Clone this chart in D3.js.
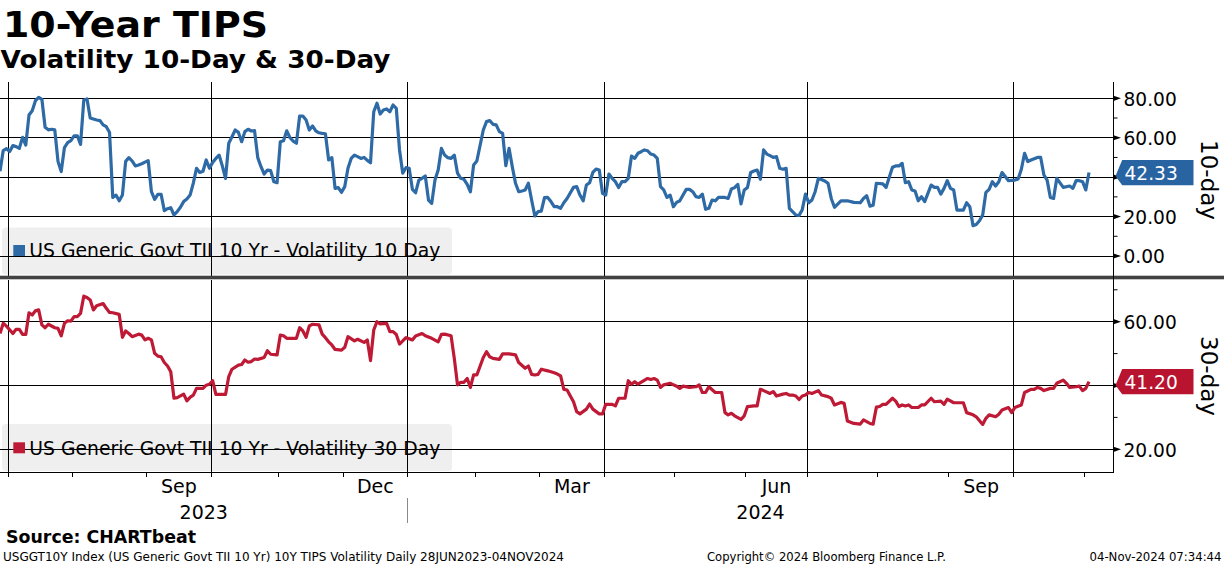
<!DOCTYPE html>
<html><head><meta charset="utf-8">
<script src="https://cdn.jsdelivr.net/npm/d3@7"></script>
<style>html,body{margin:0;padding:0;background:#fff}svg{display:block}</style>
</head><body>
<svg id="chart" width="1224" height="566"></svg>
<script>
// ---------- texts ----------
const titleText = "10-Year TIPS";
const subtitleText = "Volatility 10-Day & 30-Day";
const legendTop = "US Generic Govt TII 10 Yr - Volatility 10 Day";
const legendBottom = "US Generic Govt TII 10 Yr - Volatility 30 Day";
const axisTitleTop = "10-day";
const axisTitleBottom = "30-day";
const sourceText = "Source: CHARTbeat";
const footerLeft = "USGGT10Y Index (US Generic Govt TII 10 Yr) 10Y TIPS Volatility  Daily 28JUN2023-04NOV2024";
const footerMid = "Copyright\u00A9 2024 Bloomberg Finance L.P.";
const footerRight = "04-Nov-2024 07:34:44";

// ---------- trading calendar (x categories) ----------
const firstDay = "2023-06-28";
const calendarEnd = "2024-11-29";
const holidays = ["2023-07-04","2023-09-04","2023-10-09","2023-11-10","2023-11-23","2023-12-25",
  "2024-01-01","2024-01-15","2024-02-19","2024-03-29","2024-05-27","2024-06-19","2024-07-04",
  "2024-09-02","2024-10-14","2024-11-11","2024-11-28"];
const monthNames = ["Jan","Feb","Mar","Apr","May","Jun","Jul","Aug","Sep","Oct","Nov","Dec"];
const labelledMonths = [2,5,8,11];   // Mar, Jun, Sep, Dec
const gridMonths = [0,3,6,9];        // quarter starts

// ---------- series: [trading session since 28JUN2023, value] ----------
const tenDay = [
[0,43],[1,53.5],[2,54.5],[3,53],[4,56],[5,55.5],[6,54.6],[7,60.2],[8,56.3],[9,71.5],
[10,73.7],[11,78.8],[12,80.5],[13,79.5],[14,65.3],[15,64],[16,64.3],[17,64],[18,48],[19,42.8],
[20,55],[21,57.5],[22,58.5],[23,60.9],[24,61],[25,56.6],[26,79],[27,79.7],[28,70],[29,69.5],
[30,69],[31,68.7],[32,66.5],[33,65.6],[34,62.6],[35,29.7],[36,30.9],[37,28],[38,31],[39,48],
[40,49.9],[41,48.2],[42,45.7],[43,46.2],[44,46.8],[45,47.6],[46,48.4],[47,32.6],[48,28.7],[49,31.3],
[50,31.3],[51,23],[52,24],[53,24.5],[54,20.8],[55,22.5],[56,24.7],[57,27.6],[58,28.9],[59,30.9],
[60,37],[61,44.5],[62,42.4],[63,43],[64,48.7],[65,44.5],[66,47.5],[67,49.5],[68,51.2],[69,45.7],
[70,39.4],[71,57.2],[72,60.5],[73,63.9],[74,62.7],[75,58],[76,63.1],[77,64.3],[78,63.4],[79,63.6],
[80,49.9],[81,45.3],[82,41.6],[83,43.6],[84,43.3],[85,37.7],[86,37.2],[87,58],[88,58.5],[89,63.5],
[90,60],[91,58.3],[92,57.2],[93,71],[94,71],[95,69],[96,63.9],[97,66],[98,63.5],[99,62.5],
[100,62.2],[101,62],[102,48.7],[103,49.9],[104,34.3],[105,34.7],[106,32.3],[107,35.2],[108,44.5],[109,49.5],
[110,51.2],[111,50.4],[112,49.5],[113,50],[114,48.5],[115,47.3],[116,73.2],[117,77.5],[118,72],[119,74.1],
[120,74.6],[121,73.2],[122,76.6],[123,74.9],[124,53.8],[125,42],[126,44.8],[127,44.5],[128,33.8],[129,32.1],
[130,38.5],[131,39.4],[132,40.6],[133,28.4],[134,26.7],[135,38.5],[136,43.6],[137,54.6],[138,51.2],[139,49.9],
[140,49.5],[141,51.2],[142,42],[143,39.4],[144,38.9],[145,36.3],[146,32.6],[147,46.2],[148,48.2],[150,63.9],
[151,68.2],[152,68.7],[153,66.8],[154,66.5],[155,63.1],[156,62.2],[157,45.8],[158,54.6],[159,45.3],[160,36.9],
[161,32.6],[162,33],[163,33.5],[164,36.9],[165,28.4],[166,20.3],[167,22.5],[168,22.8],[169,29.6],[170,29.7],
[171,27.6],[172,25],[173,25],[174,24.2],[175,27],[176,29.2],[178,34.8],[179,35.2],[180,30.9],[181,28],
[182,36],[183,37.2],[184,42.4],[185,44.1],[186,43.6],[187,31.8],[188,30.9],[189,41.6],[190,39.4],[191,37.7],
[192,34.7],[193,37.7],[194,37.7],[195,39.4],[196,50.7],[197,49.5],[198,52.1],[199,52.9],[200,53.8],[201,53.4],
[202,51.7],[203,51.2],[204,49.5],[205,35.2],[206,33.5],[207,29.7],[208,30.9],[209,25],[210,27.2],[211,28],
[212,30.9],[213,33.8],[214,33.8],[215,32.6],[216,30.1],[217,29.7],[218,31.4],[219,23.7],[220,24.2],[221,28.4],
[222,28],[223,29.7],[225,29.7],[226,29.2],[227,34],[228,34.7],[229,36.3],[230,26.4],[231,33.5],[232,34.8],
[233,42.4],[234,43.1],[235,43.6],[236,38.9],[237,53.8],[238,51.7],[239,50.9],[240,50],[241,50.4],[242,44.5],
[243,44],[244,44.5],[245,24.2],[246,22.5],[247,20.8],[248,20.6],[249,23.5],[250,31.4],[251,27],[252,28.4],
[253,32.6],[254,39.4],[256,38],[257,36.9],[258,29.2],[259,24.7],[261,28],[263,28],[265,27.2],[267,27],
[268,29.2],[269,30.6],[270,25.3],[271,25.8],[272,36.9],[274,36.6],[275,34.8],[277,45],[278,45.7],[279,45.7],
[280,47],[281,37.2],[282,37.7],[283,33.5],[284,33],[285,28],[286,30.1],[287,27.6],[288,31.8],[289,36],
[290,34.8],[291,34.8],[292,31.4],[293,34.3],[294,38.2],[295,34.3],[296,33.5],[297,23.3],[299,23.3],[300,27],
[301,25],[302,15.4],[303,16],[304,17.9],[305,20.8],[306,32.3],[307,33.8],[308,37.7],[309,35.5],[310,37.7],
[311,42.3],[312,40.3],[313,38.2],[315,38.5],[316,39.1],[317,44],[318,52.1],[319,47.9],[320,48.7],[322,50],
[323,50],[324,41.1],[325,38.5],[326,29.7],[327,29.2],[328,39.4],[330,34.8],[332,35.5],[333,34.3],[334,38.2],
[335,38.2],[336,37.7],[337,33.5],[338,42.33]
];
const thirtyDay = [
[0,56.3],[1,59.5],[2,58.6],[4,56.3],[5,57.6],[6,57.6],[7,56],[8,56],[9,62.8],[10,62.1],
[11,63.4],[12,63.7],[13,59],[14,58.1],[15,59.2],[17,58.1],[18,57.9],[19,55.6],[20,59.5],[21,60.3],
[22,60.2],[23,61.6],[24,61.6],[25,62.6],[26,68],[27,67.6],[28,66.8],[29,63.7],[30,65],[32,65.7],
[33,64.2],[34,62.9],[35,62.8],[37,62.3],[38,55.1],[39,57.1],[40,56.3],[41,55.3],[43,56.1],[44,55.8],
[45,54.3],[46,54.8],[47,54.3],[48,50.1],[49,49.2],[50,49],[51,47.2],[52,46.1],[53,44.3],[54,36],
[55,36.2],[57,37.3],[58,35.2],[59,36.3],[60,37],[61,39.1],[63,39.1],[64,40.1],[65,40.4],[66,41.5],
[67,37.2],[68,37.2],[70,37.2],[71,42.8],[72,45.1],[74,46.4],[75,46.6],[76,48],[77,47.3],[78,47.5],
[79,48.3],[80,48.2],[82,48.8],[83,50.9],[84,49.8],[86,49.6],[87,55.8],[88,55.6],[89,54.8],[92,54.8],
[93,58.1],[94,57.1],[95,55.1],[96,58.7],[97,59.2],[99,59],[100,56.1],[101,55],[102,53.7],[103,52.7],
[104,51.3],[106,51.1],[107,52],[108,55.3],[110,54],[111,54.5],[113,53.5],[114,54.3],[115,47.8],[116,57.4],
[117,60],[118,59.3],[120,59.5],[121,56.9],[122,56.9],[123,56],[124,53],[125,54],[126,55],[128,54.3],
[129,55.5],[131,56.3],[132,55.6],[134,54.8],[136,53.7],[137,56],[138,56.1],[140,55.6],[141,48.5],[142,40.2],
[143,41],[144,41],[145,42.2],[146,39.4],[147,43.3],[148,43.3],[150,48.8],[151,50.6],[152,49],[153,48.5],
[155,48.2],[156,49.9],[158,49.9],[160,49.6],[161,47.2],[163,45.4],[164,46.1],[165,43.5],[166,43.3],[167,43.5],
[168,45.1],[170,44.6],[172,44],[173,43.6],[174,43],[175,38.8],[176,38.6],[178,34.9],[179,31.8],[180,31.1],
[182,32.6],[183,34.2],[184,32.6],[186,31.1],[187,31.1],[188,34.1],[190,34.1],[191,33.6],[192,36],[194,36],
[195,41.5],[196,40.4],[197,41.2],[198,40.4],[201,42.2],[202,41.9],[203,42.2],[204,41.7],[205,39.4],[206,40.2],
[208,40.7],[209,40.2],[210,39.8],[211,39.1],[212,39.8],[214,39.4],[216,39.6],[217,40.2],[218,37.8],[219,37.8],
[220,39.6],[222,37.8],[224,37.8],[225,31.5],[226,30.8],[227,31.3],[228,30.5],[230,29.4],[231,30.5],[232,33.4],
[234,33.6],[235,33.6],[236,38.8],[237,38.4],[239,37.5],[240,38.1],[241,36.7],[243,37.3],[244,37.5],[245,37],
[246,37],[247,36.7],[248,35.6],[249,36.7],[250,37],[251,37.8],[252,37.5],[254,38.4],[255,37],[257,36.5],
[258,36],[259,33.9],[261,34.7],[262,34.4],[263,28.9],[265,28.1],[267,27.9],[268,29.2],[270,28.1],[271,27.9],
[272,33.2],[273,33.4],[274,34.1],[275,34.1],[277,36],[278,35.1],[279,33.4],[280,33.9],[281,33.6],[282,33.9],
[283,33.1],[285,33.1],[286,33.9],[287,33.9],[289,36],[290,34.9],[292,35.1],[293,34.1],[294,35.7],[296,34.6],
[297,34.6],[299,34.6],[300,31.5],[302,30.8],[303,30.2],[305,27.8],[306,29.7],[307,30.8],[309,30.2],[310,31],
[311,32.3],[313,33.1],[314,31.5],[315,33.1],[317,33.9],[318,37.8],[320,38.8],[321,38.8],[322,39.4],[323,39.1],
[324,38.4],[326,39.1],[327,39.1],[328,40.7],[330,41.7],[331,40.7],[332,39.4],[334,39.6],[335,39.8],[336,38.4],
[337,39.1],[338,41.2]
];
const tenDayLast = 42.33;
const thirtyDayLast = 41.20;

// ---------- axis ticks ----------
const topTicks = [0,20,40,60,80];
const topMinor = [10,30,50,70];
const bottomTicks = [20,40,60];
const bottomMinor = [30,50,70];

// ---------- styles ----------
const BLUE = "#2e6aa5", BLUE_BADGE = "#2964a2";
const RED = "#be1a35", RED_BADGE = "#b8142f";
const FONT = "'DejaVu Sans', Verdana, sans-serif";

// ---------- layout ----------
const plotLeft = 0, plotRight = 1113.5;
const topPanel = {top: 81.5, bottom: 275.5};
const botPanel = {top: 279.5, bottom: 472.5};

// ---------- build trading calendar ----------
const sessions = [];
{
  const hol = new Set(holidays);
  const d = new Date(firstDay + "T00:00:00Z");
  const end = new Date(calendarEnd + "T00:00:00Z");
  while (d <= end) {
    const wd = d.getUTCDay();
    const iso = d.toISOString().slice(0,10);
    if (wd !== 0 && wd !== 6 && !hol.has(iso)) sessions.push(new Date(d));
    d.setUTCDate(d.getUTCDate() + 1);
  }
}
const x = d3.scaleLinear().domain([0, 345.6]).range([plotLeft, plotRight]);
const yTop = d3.scaleLinear().domain([0, 80]).range([256, 98.3]);
const yBot = d3.scaleLinear().domain([20, 60]).range([449.3, 321.7]);

// month boundaries in session units
const boundaries = [];
for (let i = 1; i < sessions.length; i++) {
  if (sessions[i].getUTCMonth() !== sessions[i-1].getUTCMonth()) {
    boundaries.push({pos: i - 0.5, month: sessions[i].getUTCMonth(), year: sessions[i].getUTCFullYear()});
  }
}
const visibleBounds = boundaries.filter(b => x(b.pos) <= plotRight);

const svg = d3.select("#chart");

// ---------- titles ----------
svg.append("text").attr("x", 3).attr("y", 36.7)
  .attr("font-family", FONT).attr("font-weight", "bold").attr("font-size", 35)
  .attr("textLength", 265).attr("lengthAdjust", "spacingAndGlyphs").text(titleText);
svg.append("text").attr("x", 0.5).attr("y", 68.3)
  .attr("font-family", FONT).attr("font-weight", "bold").attr("font-size", 25)
  .attr("textLength", 390).attr("lengthAdjust", "spacingAndGlyphs").text(subtitleText);

// ---------- legend boxes (behind grid) ----------
function legendBox(y0) {
  svg.append("rect").attr("x", 2).attr("y", y0).attr("width", 450).attr("height", 47)
    .attr("rx", 4).attr("fill", "#efefef");
}
legendBox(227.5);
legendBox(424);

// ---------- grid ----------
const grid = svg.append("g").attr("stroke", "#000").attr("stroke-width", 1).attr("shape-rendering", "crispEdges");
topTicks.forEach(v => grid.append("line").attr("x1", plotLeft).attr("x2", plotRight).attr("y1", yTop(v)).attr("y2", yTop(v)));
bottomTicks.forEach(v => grid.append("line").attr("x1", plotLeft).attr("x2", plotRight).attr("y1", yBot(v)).attr("y2", yBot(v)));
visibleBounds.filter(b => gridMonths.includes(b.month)).forEach(b => {
  grid.append("line").attr("x1", x(b.pos)).attr("x2", x(b.pos)).attr("y1", topPanel.top).attr("y2", topPanel.bottom);
  grid.append("line").attr("x1", x(b.pos)).attr("x2", x(b.pos)).attr("y1", botPanel.top).attr("y2", botPanel.bottom);
});

// ---------- clip paths ----------
const defs = svg.append("defs");
defs.append("clipPath").attr("id", "clipTop").append("rect")
  .attr("x", plotLeft).attr("y", topPanel.top).attr("width", plotRight - plotLeft).attr("height", topPanel.bottom - topPanel.top);
defs.append("clipPath").attr("id", "clipBot").append("rect")
  .attr("x", plotLeft).attr("y", botPanel.top).attr("width", plotRight - plotLeft).attr("height", botPanel.bottom - botPanel.top);

// ---------- lines ----------
const lineTop = d3.line().x(d => x(d[0])).y(d => yTop(d[1]));
const lineBot = d3.line().x(d => x(d[0])).y(d => yBot(d[1]));
svg.append("path").datum(tenDay).attr("clip-path", "url(#clipTop)")
  .attr("d", lineTop).attr("fill", "none").attr("stroke", BLUE).attr("stroke-width", 3.2)
  .attr("stroke-linejoin", "round");
svg.append("path").datum(thirtyDay).attr("clip-path", "url(#clipBot)")
  .attr("d", lineBot).attr("fill", "none").attr("stroke", RED).attr("stroke-width", 3.2)
  .attr("stroke-linejoin", "round");

// ---------- legend content ----------
svg.append("rect").attr("x", 13.3).attr("y", 245).attr("width", 11.7).attr("height", 11).attr("fill", BLUE);
svg.append("text").attr("x", 29.3).attr("y", 257.3).attr("font-family", FONT).attr("font-size", 18.7)
  .attr("textLength", 411).attr("lengthAdjust", "spacingAndGlyphs").text(legendTop);
svg.append("rect").attr("x", 13.3).attr("y", 442.3).attr("width", 11.7).attr("height", 11).attr("fill", RED);
svg.append("text").attr("x", 29.3).attr("y", 455.3).attr("font-family", FONT).attr("font-size", 18.7)
  .attr("textLength", 411).attr("lengthAdjust", "spacingAndGlyphs").text(legendBottom);

// ---------- separator between panels ----------
svg.append("rect").attr("x", 0).attr("y", 275.7).attr("width", 1224).attr("height", 3.6).attr("fill", "#424242");

// ---------- right axis ----------
const ax = svg.append("g");
ax.append("line").attr("x1", plotRight).attr("x2", plotRight).attr("y1", topPanel.top).attr("y2", botPanel.bottom)
  .attr("stroke", "#000").attr("stroke-width", 1).attr("shape-rendering", "crispEdges");
// a tick label is hidden where the last-value badge sits
function majorTicks(ticks, scale, badgeValue) {
  ticks.forEach(v => {
    const yy = scale(v);
    ax.append("path").attr("d", `M${plotRight},${yy - 2.6}L${plotRight + 7.5},${yy}L${plotRight},${yy + 2.6}Z`).attr("fill", "#000");
    if (Math.abs(yy - scale(badgeValue)) > 22) {
      ax.append("text").attr("x", plotRight + 10).attr("y", yy + 7.2)
        .attr("font-family", FONT).attr("font-size", 18.6).attr("fill", "#000").text(d3.format(".2f")(v));
    }
  });
}
function minorTicks(ticks, scale) {
  ticks.forEach(v => {
    const yy = scale(v);
    ax.append("line").attr("x1", plotRight).attr("x2", plotRight + 4).attr("y1", yy).attr("y2", yy)
      .attr("stroke", "#000").attr("stroke-width", 1);
  });
}
majorTicks(topTicks, yTop, tenDayLast);
minorTicks(topMinor, yTop);
majorTicks(bottomTicks, yBot, thirtyDayLast);
minorTicks(bottomMinor.filter(v => yBot(v) > botPanel.top), yBot);

// axis titles
svg.append("text").attr("transform", `translate(1200.5,180) rotate(90)`).attr("text-anchor", "middle")
  .attr("font-family", FONT).attr("font-size", 23).text(axisTitleTop);
svg.append("text").attr("transform", `translate(1200.5,376) rotate(90)`).attr("text-anchor", "middle")
  .attr("font-family", FONT).attr("font-size", 23).text(axisTitleBottom);

// last value badges
function badge(yy, color, value) {
  const h = 12.6;
  svg.append("path")
    .attr("d", `M${plotRight + 2},${yy + 3.5}L${plotRight + 8.7},${yy - h}L${plotRight + 80},${yy - h}L${plotRight + 80},${yy + h}L${plotRight + 8.7},${yy + h}Z`)
    .attr("fill", color);
  svg.append("text").attr("x", plotRight + 11).attr("y", yy + 7)
    .attr("font-family", FONT).attr("font-size", 18.6).attr("fill", "#fff").text(d3.format(".2f")(value));
}
badge(yTop(tenDayLast), BLUE_BADGE, tenDayLast);
badge(yBot(thirtyDayLast), RED_BADGE, thirtyDayLast);

// ---------- x axis ----------
svg.append("line").attr("x1", plotLeft).attr("x2", plotRight).attr("y1", botPanel.bottom).attr("y2", botPanel.bottom)
  .attr("stroke", "#000").attr("stroke-width", 1).attr("shape-rendering", "crispEdges");
visibleBounds.forEach(b => {
  svg.append("line").attr("x1", x(b.pos)).attr("x2", x(b.pos)).attr("y1", botPanel.bottom).attr("y2", botPanel.bottom + 4)
    .attr("stroke", "#000").attr("stroke-width", 1).attr("shape-rendering", "crispEdges");
});
// month labels (middle of labelled months)
for (let k = 0; k < boundaries.length - 1; k++) {
  const b = boundaries[k], nb = boundaries[k + 1];
  if (labelledMonths.includes(b.month) && x(nb.pos) <= plotRight + 1) {
    svg.append("text").attr("x", (x(b.pos) + x(nb.pos)) / 2).attr("y", 493.3).attr("text-anchor", "middle")
      .attr("font-family", FONT).attr("font-size", 19).text(monthNames[b.month]);
  }
}
// year labels
const yearStart = boundaries.find(b => b.month === 0);
const yearSpans = [
  {label: String(sessions[0].getUTCFullYear()), x0: x(0), x1: x(yearStart.pos)},
  {label: String(yearStart.year), x0: x(yearStart.pos), x1: plotRight}
];
yearSpans.forEach(s => {
  svg.append("text").attr("x", (s.x0 + s.x1) / 2).attr("y", 518.7).attr("text-anchor", "middle")
    .attr("font-family", FONT).attr("font-size", 19).text(s.label);
});
svg.append("line").attr("x1", x(yearStart.pos)).attr("x2", x(yearStart.pos)).attr("y1", 498.3).attr("y2", 523.3)
  .attr("stroke", "#8a8a8a").attr("stroke-width", 1).attr("shape-rendering", "crispEdges");

// ---------- footer ----------
svg.append("text").attr("x", 6).attr("y", 542.7).attr("font-family", FONT).attr("font-weight", "bold")
  .attr("font-size", 17).attr("textLength", 190).attr("lengthAdjust", "spacingAndGlyphs").text(sourceText);
svg.append("text").attr("x", 3).attr("y", 561).attr("font-family", FONT).attr("font-size", 12)
  .attr("textLength", 561).attr("lengthAdjust", "spacingAndGlyphs").text(footerLeft);
svg.append("text").attr("x", 707).attr("y", 561).attr("font-family", FONT).attr("font-size", 12)
  .attr("textLength", 239).attr("lengthAdjust", "spacingAndGlyphs").text(footerMid);
svg.append("text").attr("x", 1089.5).attr("y", 561).attr("font-family", FONT).attr("font-size", 12)
  .attr("textLength", 132).attr("lengthAdjust", "spacingAndGlyphs").text(footerRight);
</script>
</body></html>
